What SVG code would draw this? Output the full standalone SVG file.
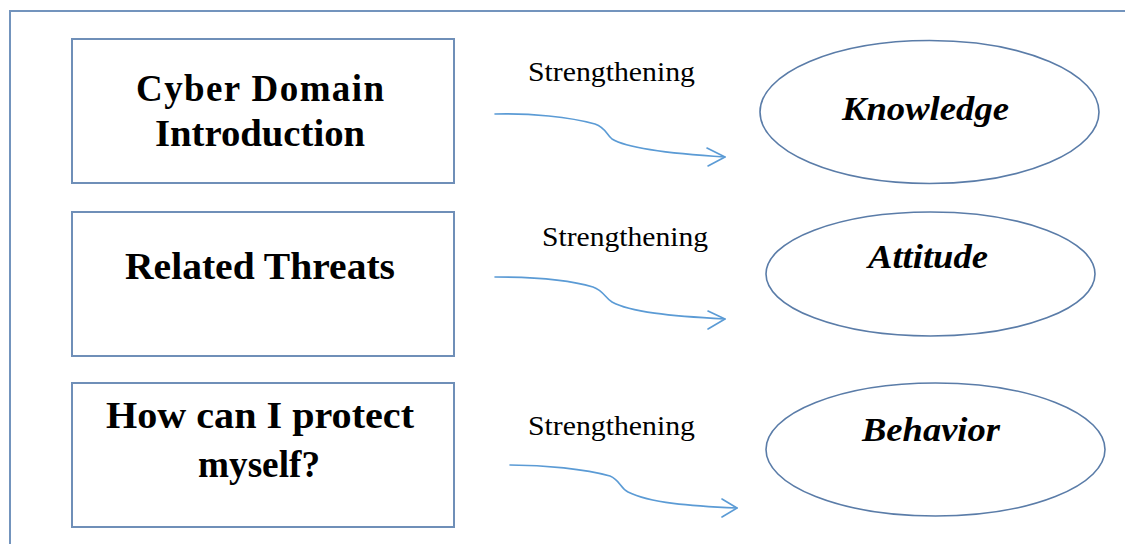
<svg xmlns="http://www.w3.org/2000/svg" width="1125" height="544" viewBox="0 0 1125 544">
  <style>
    .frame { fill: none; stroke: #7394bd; stroke-width: 2; }
    .box { fill: #ffffff; stroke: #6f8fb8; stroke-width: 2; }
    .oval { fill: #ffffff; stroke: #5a7ca8; stroke-width: 1.6; }
    .title { font-family: "Liberation Serif", "Times New Roman", serif; font-weight: bold; font-size: 37px; fill: #000; text-anchor: middle; }
    .goal { font-family: "Liberation Serif", "Times New Roman", serif; font-weight: bold; font-style: italic; font-size: 33px; fill: #000; text-anchor: middle; }
    .label { font-family: "Liberation Serif", "Times New Roman", serif; font-size: 27px; fill: #000; text-anchor: middle; }
    .link { fill: none; stroke: #5b9bd5; stroke-width: 1.6; stroke-linecap: round; stroke-linejoin: round; }
  </style>

  <!-- outer border, open towards right and bottom edges -->
  <rect class="frame" x="10" y="11" width="1130" height="560"/>

  <!-- topic boxes -->
  <g id="topic-cyber-domain">
    <rect class="box" x="72" y="39" width="382" height="144"/>
    <text class="title" x="260" y="101" textLength="248" lengthAdjust="spacing">Cyber Domain</text>
    <text class="title" x="260" y="146" textLength="210" lengthAdjust="spacingAndGlyphs">Introduction</text>
  </g>
  <g id="topic-related-threats">
    <rect class="box" x="72" y="212" width="382" height="144"/>
    <text class="title" x="260" y="279" textLength="270" lengthAdjust="spacingAndGlyphs">Related Threats</text>
  </g>
  <g id="topic-protect-myself">
    <rect class="box" x="72" y="383" width="382" height="144"/>
    <text class="title" x="260" y="428" textLength="308" lengthAdjust="spacingAndGlyphs">How can I protect</text>
    <text class="title" x="259" y="477" textLength="122" lengthAdjust="spacingAndGlyphs">myself?</text>
  </g>

  <!-- outcome ellipses -->
  <g id="outcome-knowledge">
    <ellipse class="oval" cx="929.5" cy="112" rx="169.5" ry="71.5"/>
    <text class="goal" x="925.5" y="120" textLength="167" lengthAdjust="spacingAndGlyphs">Knowledge</text>
  </g>
  <g id="outcome-attitude">
    <ellipse class="oval" cx="930.5" cy="274" rx="164.5" ry="62"/>
    <text class="goal" x="928" y="268" textLength="120" lengthAdjust="spacingAndGlyphs">Attitude</text>
  </g>
  <g id="outcome-behavior">
    <ellipse class="oval" cx="935.5" cy="449.5" rx="169.5" ry="66.5"/>
    <text class="goal" x="931" y="441" textLength="138" lengthAdjust="spacingAndGlyphs">Behavior</text>
  </g>

  <!-- connectors -->
  <g id="connectors">
    <text class="label" x="611.5" y="81" textLength="167" lengthAdjust="spacingAndGlyphs">Strengthening</text>
    <path class="link" d="M495,114 C530,113 570,117 595,124 C606,128 606,134 612,139 C625,147 660,153 725,157"/>
    <path class="link" d="M707,148 L725,157 L708,166"/>

    <text class="label" x="625" y="246" textLength="166" lengthAdjust="spacingAndGlyphs">Strengthening</text>
    <path class="link" d="M495,277 C530,277 570,280 593,287 C604,291 605,298 612,302 C630,312 670,316 725,319"/>
    <path class="link" d="M708,311 L725,319 L708,329"/>

    <text class="label" x="611.5" y="435" textLength="167" lengthAdjust="spacingAndGlyphs">Strengthening</text>
    <path class="link" d="M510,465 C545,465 585,469 610,476 C620,480 620,488 628,492 C650,503 690,506 737,508"/>
    <path class="link" d="M722,499 L737,508 L722,517"/>
  </g>
</svg>
